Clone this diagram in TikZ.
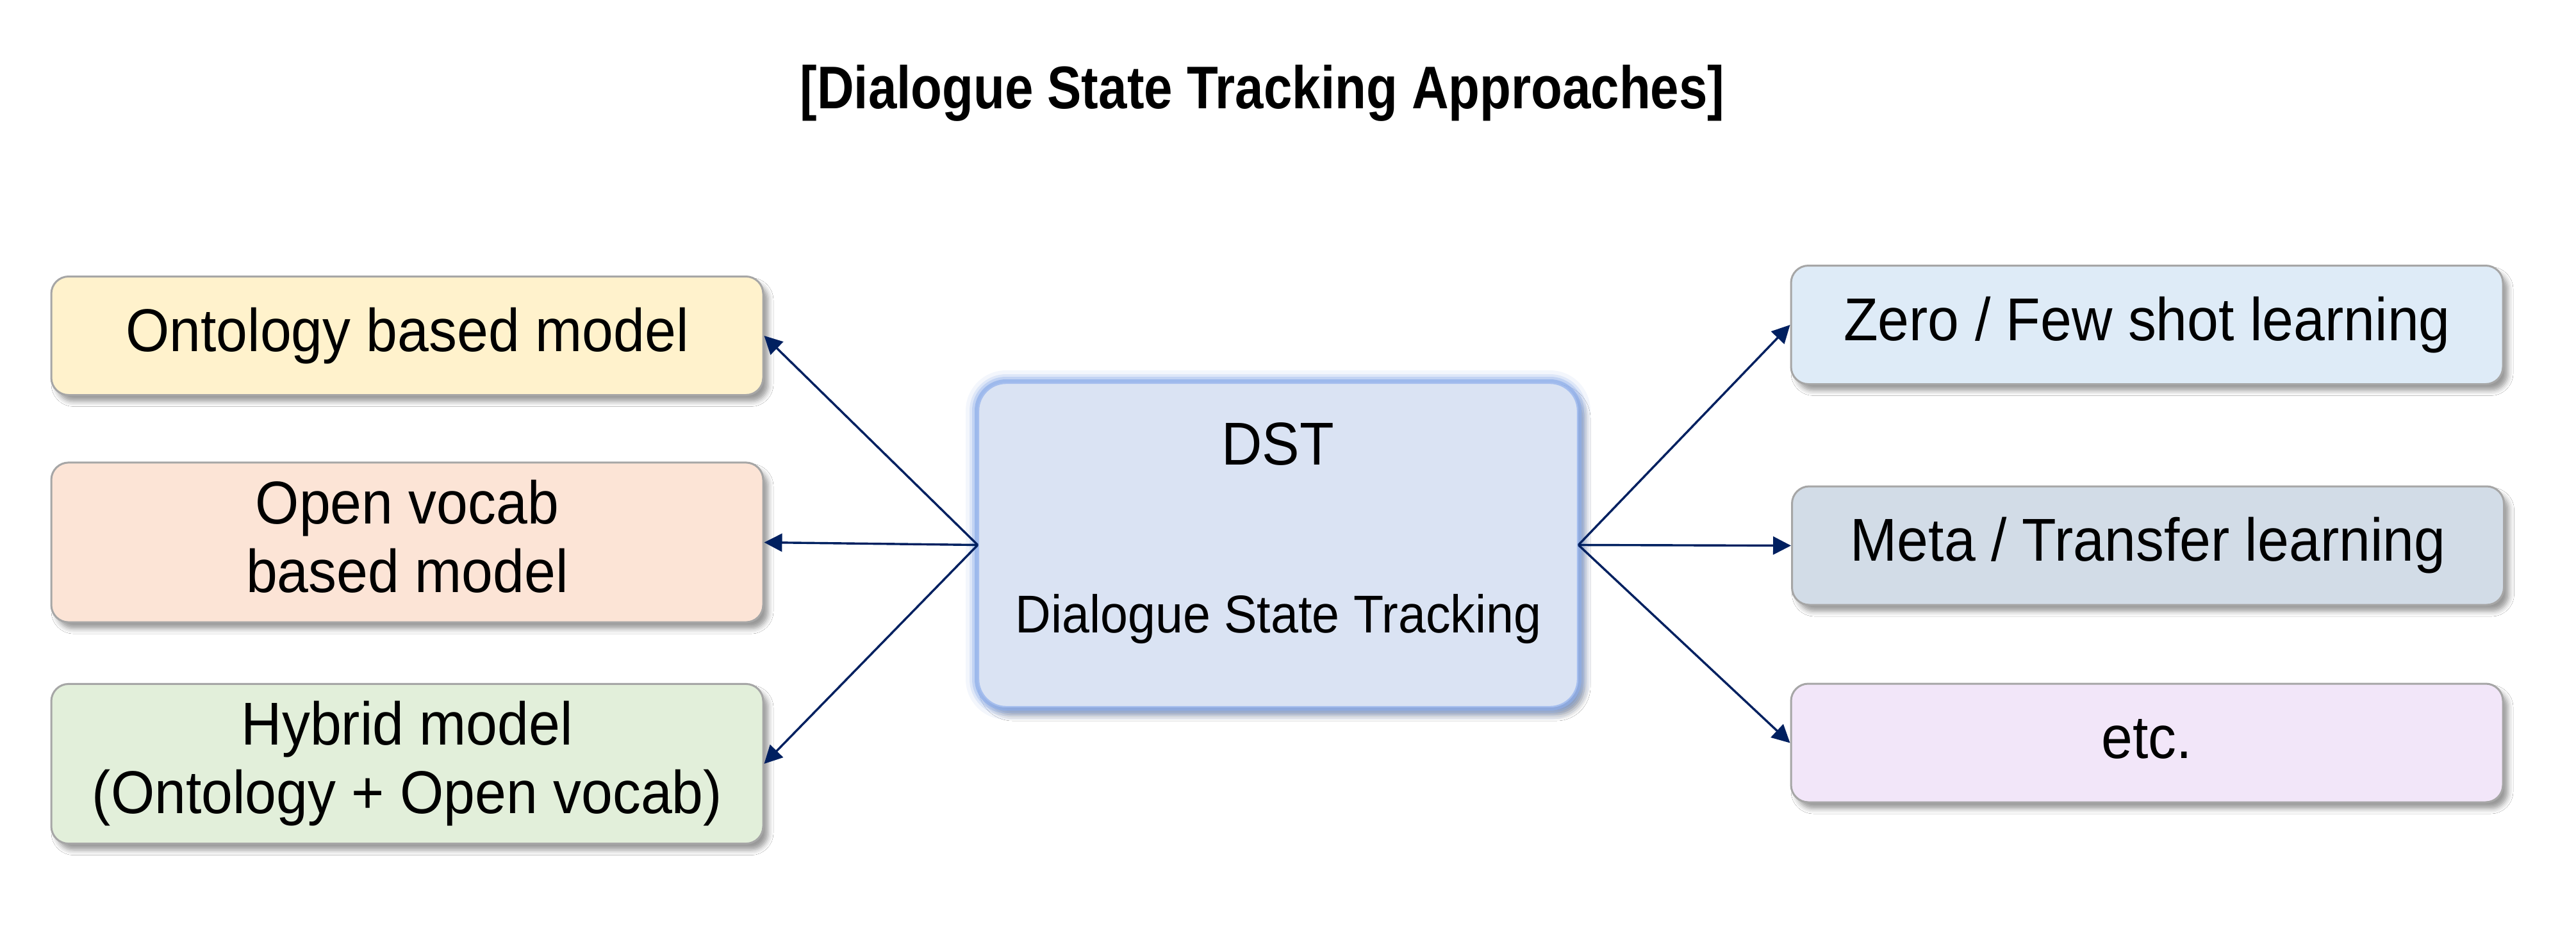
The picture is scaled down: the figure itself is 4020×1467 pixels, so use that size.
\documentclass[tikz,border=0pt]{standalone}
\usepackage{fontspec}
\setmainfont{Liberation Sans}[FakeStretch=0.93]
\newfontfamily\titlefont{Liberation Sans}[FakeStretch=0.85]
\usetikzlibrary{arrows.meta,shadows.blur}
\definecolor{boxline}{HTML}{A6A6A6}
\definecolor{arrowblue}{HTML}{002060}
\definecolor{ontfill}{HTML}{FFF2CC}
\definecolor{openfill}{HTML}{FCE4D6}
\definecolor{hybfill}{HTML}{E2EFDA}
\definecolor{zerofill}{HTML}{DEEBF7}
\definecolor{metafill}{HTML}{D2DCE7}
\definecolor{etcfill}{HTML}{F2E6F9}
\definecolor{dstfill}{HTML}{DAE3F3}
\definecolor{glowblue}{HTML}{8EAEEA}
\begin{document}
\begin{tikzpicture}[x=0.25pt,y=-0.25pt,
  box/.style={draw=boxline, line width=0.75pt, rounded corners=6.75pt,
    minimum width=277.75pt, inner sep=0pt, align=center,
    font=\fontsize{23.6}{26.75}\selectfont, text depth=4.96pt,
    blur shadow={shadow xshift=2pt, shadow yshift=-2.5pt, shadow blur radius=2pt, shadow opacity=40}},
  onebox/.style={box, text height=17.2pt, minimum height=46.25pt},
  twobox/.style={box, minimum height=62.3pt},
  arr/.style={draw=arrowblue, line width=0.85pt, -{Triangle[length=7pt,width=7pt]}},
  glow/.style={draw=glowblue, rounded corners=10.75pt},
]
\fill[white] (0,0) rectangle (4020,1467);
\useasboundingbox (0,0) rectangle (4020,1467);

% title
\node[anchor=base, inner sep=0pt, font=\titlefont\bfseries\fontsize{23.5}{28}\selectfont] (title) at (1970,169) {[Dialogue State Tracking Approaches]};

% left boxes
\node[onebox, fill=ontfill] (ont) at (635.5,524) {Ontology based model};
\node[twobox, fill=openfill] (open) at (635.5,846.5) {Open vocab\\based model};
\node[twobox, fill=hybfill] (hyb) at (635.5,1192) {Hybrid model\\(Ontology + Open vocab)};

% right boxes
\node[onebox, fill=zerofill] (zero) at (3350.5,507) {Zero / Few shot learning};
\node[onebox, fill=metafill] (meta) at (3352,851.5) {Meta / Transfer learning};
\node[onebox, fill=etcfill] (etc) at (3350.5,1159.5) {etc.};

% central DST box: shadow, glow, then the box
\path[rounded corners=10.75pt, blur shadow={shadow xshift=2.5pt, shadow yshift=-3pt, shadow blur radius=2.5pt, shadow opacity=45}] (1527,598) rectangle (2462,1103);
\draw[glow, line width=10pt, opacity=0.10] (1527,598) rectangle (2462,1103);
\draw[glow, line width=7pt, opacity=0.20] (1527,598) rectangle (2462,1103);
\draw[glow, line width=5pt, opacity=0.35] (1527,598) rectangle (2462,1103);
\draw[glow, line width=3pt, opacity=0.7] (1527,598) rectangle (2462,1103);
\node[fill=dstfill, draw=glowblue!80, line width=0.6pt, rounded corners=10.75pt,
  minimum width=233.75pt, minimum height=126.25pt, inner sep=0pt] (dst) at (1994.5,850.5) {};
\node[anchor=base, inner sep=0pt, font=\fontsize{23.6}{28}\selectfont] (dsttitle) at (1994,725) {DST};
\node[anchor=base, inner sep=0pt, font=\fontsize{20.75}{25}\selectfont] (dstsub) at (1995,987) {Dialogue State Tracking};

% connectors
\draw[arr] (dst.west) -- (ont.east);
\draw[arr] (dst.west) -- (open.east);
\draw[arr] (dst.west) -- (hyb.east);
\draw[arr] (dst.east) -- (zero.west);
\draw[arr] (dst.east) -- (meta.west);
\draw[arr] (dst.east) -- (etc.west);
\end{tikzpicture}
\end{document}
